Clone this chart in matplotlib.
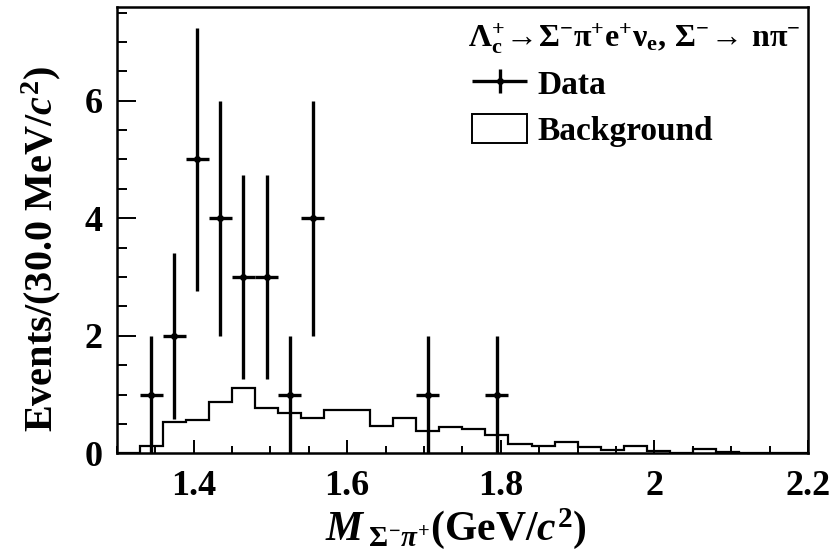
import numpy as np
import matplotlib
matplotlib.use("Agg")
import matplotlib.pyplot as plt
from matplotlib.patches import Patch
from matplotlib.legend_handler import HandlerErrorbar
from matplotlib.ticker import MultipleLocator, FuncFormatter

# --- data ---
# 30 MeV bins from 1.30 to 2.20 GeV/c^2
edges = 1.30 + 0.03 * np.arange(31)
bkg = [0.00, 0.12, 0.53, 0.57, 0.87, 1.12, 0.77, 0.69, 0.60, 0.73,
       0.74, 0.47, 0.60, 0.38, 0.45, 0.41, 0.32, 0.16, 0.13, 0.19,
       0.11, 0.05, 0.12, 0.04, 0.01, 0.07, 0.02, 0.01, 0.01, 0.00]

data_x = [1.345, 1.375, 1.405, 1.435, 1.465, 1.495, 1.525, 1.555, 1.705, 1.795]
data_n = [1, 2, 5, 4, 3, 3, 1, 4, 1, 1]

# --- style ---
plt.rcParams["font.family"] = "Liberation Serif"
plt.rcParams["font.weight"] = "bold"
plt.rcParams["axes.labelweight"] = "bold"
plt.rcParams["mathtext.fontset"] = "custom"
plt.rcParams["mathtext.rm"] = "Liberation Serif:bold"
plt.rcParams["mathtext.bf"] = "Liberation Serif:bold"
plt.rcParams["mathtext.it"] = "Liberation Serif:italic:bold"
plt.rcParams["mathtext.default"] = "rm"

fig = plt.figure(figsize=(8.35, 5.58), dpi=100)
ax = fig.add_axes([0.1398, 0.1876, 0.8279, 0.8004])

ax.stairs(bkg, edges, color="black", lw=1.6, baseline=0)

err = ax.errorbar(data_x, data_n, xerr=0.015, yerr=np.sqrt(data_n),
                  fmt="o", color="black", ms=4, elinewidth=2.4, capsize=0)

ax.set_xlim(1.30, 2.20)
ax.set_ylim(0, 7.6)

ax.xaxis.set_major_locator(MultipleLocator(0.2))
ax.xaxis.set_minor_locator(MultipleLocator(0.05))
ax.yaxis.set_major_locator(MultipleLocator(2))
ax.yaxis.set_minor_locator(MultipleLocator(0.5))
ax.xaxis.set_major_formatter(FuncFormatter(lambda v, p: f"{v:g}"))

ax.tick_params(axis="x", which="major", direction="in", length=9.5, width=1.4,
               labelsize=26, pad=12)
ax.tick_params(axis="x", which="minor", direction="in", length=5, width=1.4)
ax.tick_params(axis="y", which="major", direction="in", length=13.5, width=1.4,
               labelsize=26, pad=10)
ax.tick_params(axis="y", which="minor", direction="in", length=7, width=1.4)
for s in ax.spines.values():
    s.set_linewidth(1.8)

ax.set_xlabel(r"$\mathit{M}_{\;\mathit{\Sigma^{-}\pi^{+}}}$(GeV/$\mathit{c}^{2}$)",
              fontsize=30)
ax.xaxis.set_label_coords(0.49, -0.118)
ax.set_ylabel(r"Events/(30.0 MeV/$\mathit{c}^{2}$)", fontsize=29)
ax.yaxis.set_label_coords(-0.078, 0.457)

# legend
ax.text(0.508, 0.910,
        r"$\Lambda_{c}^{+}\!\rightarrow\!\Sigma^{-}\pi^{+}e^{+}\nu_{e},\,\Sigma^{-}\!\rightarrow\,n\pi^{-}$",
        transform=ax.transAxes, fontsize=23, va="baseline", ha="left")
ax.legend([err, Patch(facecolor="white", edgecolor="black", lw=1.4)],
          ["Data", "Background"], loc="upper left",
          bbox_to_anchor=(0.514, 0.862), frameon=False, fontsize=24,
          handlelength=1.65, handleheight=0.95, handletextpad=0.3,
          labelspacing=0.4, borderpad=0, borderaxespad=0,
          handler_map={err: HandlerErrorbar(xerr_size=0.82, yerr_size=0.36)})

fig.savefig("out.png", dpi=100)
